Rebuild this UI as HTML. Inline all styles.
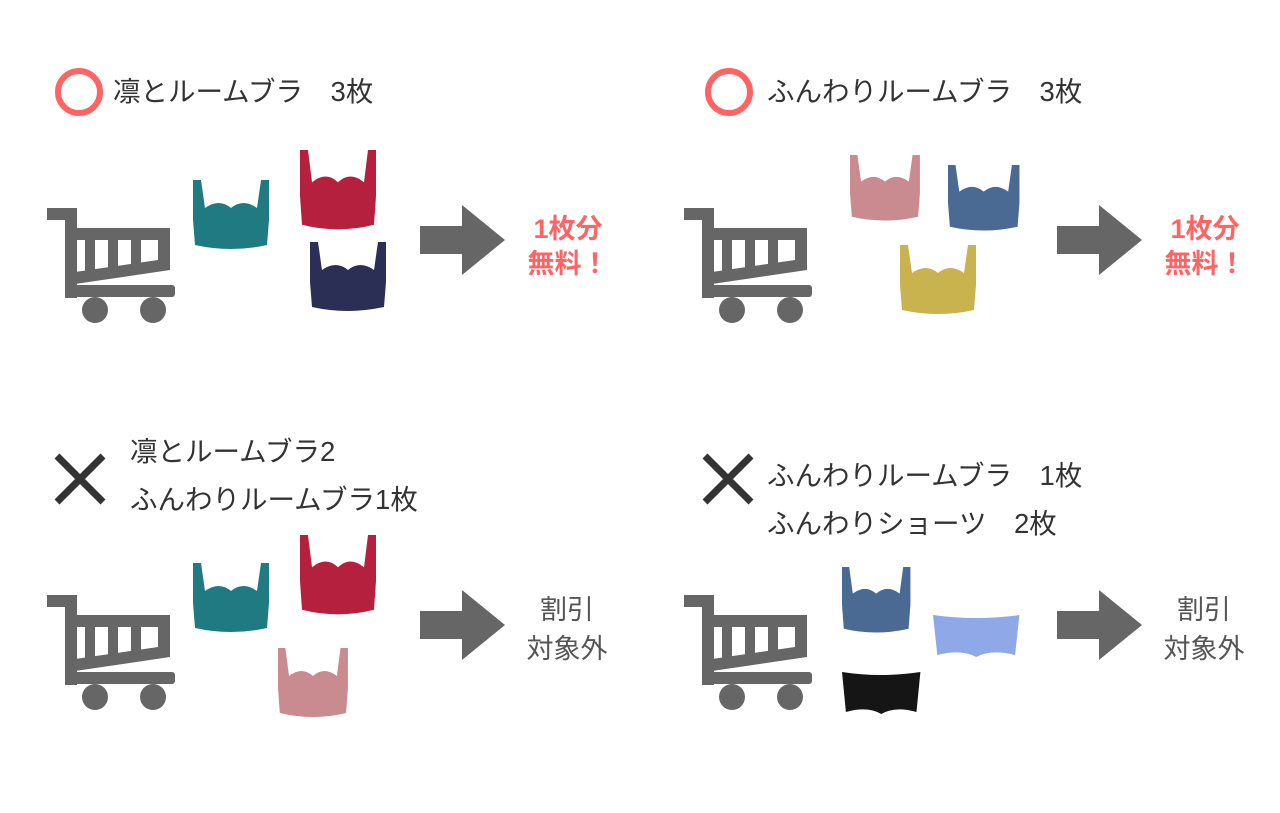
<!DOCTYPE html>
<html><head><meta charset="utf-8"><style>
html,body{margin:0;padding:0;background:#fff;}
body{width:1280px;height:813px;position:relative;overflow:hidden;font-family:"Liberation Sans","Noto Sans CJK JP",sans-serif;}
.t{position:absolute;font-size:27.5px;color:#333;white-space:nowrap;line-height:1;}
.r{position:absolute;font-size:27px;color:#ff6464;font-weight:bold;line-height:1.3;text-align:center;width:110px;}
.g{position:absolute;font-size:27px;color:#555;line-height:1.45;text-align:center;width:120px;}
svg{position:absolute;left:0;top:0;}
</style></head><body>
<svg width="1280" height="813" viewBox="0 0 1280 813">
<defs>
<g id="cart" fill="#666">
<path d="M47,208 h30 v90 h-12 v-78 h-18z"/>
<path d="M68,228 h102 v42 l-95,14 v-12 l83,-12 v-20 h-90z"/>
<rect x="85" y="238" width="10" height="38"/><rect x="108" y="238" width="10" height="35"/><rect x="131" y="238" width="10" height="32"/>
<rect x="65" y="285" width="110" height="12" rx="3"/>
<circle cx="95" cy="310" r="13"/><circle cx="153" cy="310" r="13"/>
</g>
<g id="arrow" fill="#666"><path d="M420,226 h42 v-21 l43,35 l-43,35 v-21 h-42z"/></g>
<g id="bra"><path d="M0,0 h8 l4,28 q14,-10 26,0 q12,-10 26,0 l4,-28 h8 v40 l-2,25 q-36,8 -72,0 l-2,-25z"/></g>
<g id="shorts"><path d="M0,0 q40,6 80,0 l-4,40 q-22,-6 -36,2 q-14,-8 -36,-2z"/></g>
</defs>
<use href="#cart"/><use href="#cart" x="637"/><use href="#cart" y="387"/><use href="#cart" x="637" y="387"/>
<use href="#arrow"/><use href="#arrow" x="637"/><use href="#arrow" y="385"/><use href="#arrow" x="637" y="385"/>
<circle cx="79" cy="92" r="21" fill="none" stroke="#ff6464" stroke-width="6"/>
<circle cx="729" cy="92" r="21" fill="none" stroke="#ff6464" stroke-width="6"/>
<path d="M57,456 L103,502 M103,456 L57,502" stroke="#333" stroke-width="7"/>
<path d="M705,456 L751,502 M751,456 L705,502" stroke="#333" stroke-width="7"/>
<g transform="translate(193,180) scale(1,1)" fill="#1f7a82"><use href="#bra"/></g>
<g transform="translate(300,150) scale(1,1.15)" fill="#b5203f"><use href="#bra"/></g>
<g transform="translate(310,242)" fill="#2c2f55"><use href="#bra"/></g>
<g transform="translate(850,155) scale(0.92,0.95)" fill="#c98a90"><use href="#bra"/></g>
<g transform="translate(948,165) scale(0.94,0.95)" fill="#4a6a93"><use href="#bra"/></g>
<g transform="translate(900,245)" fill="#c9b34f"><use href="#bra"/></g>
<g transform="translate(193,563)" fill="#1f7a82"><use href="#bra"/></g>
<g transform="translate(300,535) scale(1,1.15)" fill="#b5203f"><use href="#bra"/></g>
<g transform="translate(278,648) scale(0.92,1)" fill="#c98a90"><use href="#bra"/></g>
<g transform="translate(842,567) scale(0.9,0.95)" fill="#4a6a93"><use href="#bra"/></g>
<g transform="translate(933,615) scale(1.08,1)" fill="#8ea8e8"><use href="#shorts"/></g>
<g transform="translate(842,672) scale(0.98,1)" fill="#151515"><use href="#shorts"/></g>
</svg>
<div class="t" style="left:113px;top:78px">凛とルームブラ　3枚</div>
<div class="t" style="left:767px;top:78px">ふんわりルームブラ　3枚</div>
<div class="t" style="left:130px;top:438px">凛とルームブラ2</div>
<div class="t" style="left:130px;top:486px">ふんわりルームブラ1枚</div>
<div class="t" style="left:767px;top:462px">ふんわりルームブラ　1枚</div>
<div class="t" style="left:767px;top:510px">ふんわりショーツ　2枚</div>
<div class="r" style="left:513px;top:212px">1枚分<br>無料！</div>
<div class="r" style="left:1150px;top:212px">1枚分<br>無料！</div>
<div class="g" style="left:507px;top:591px">割引<br>対象外</div>
<div class="g" style="left:1144px;top:591px">割引<br>対象外</div>
</body></html>
